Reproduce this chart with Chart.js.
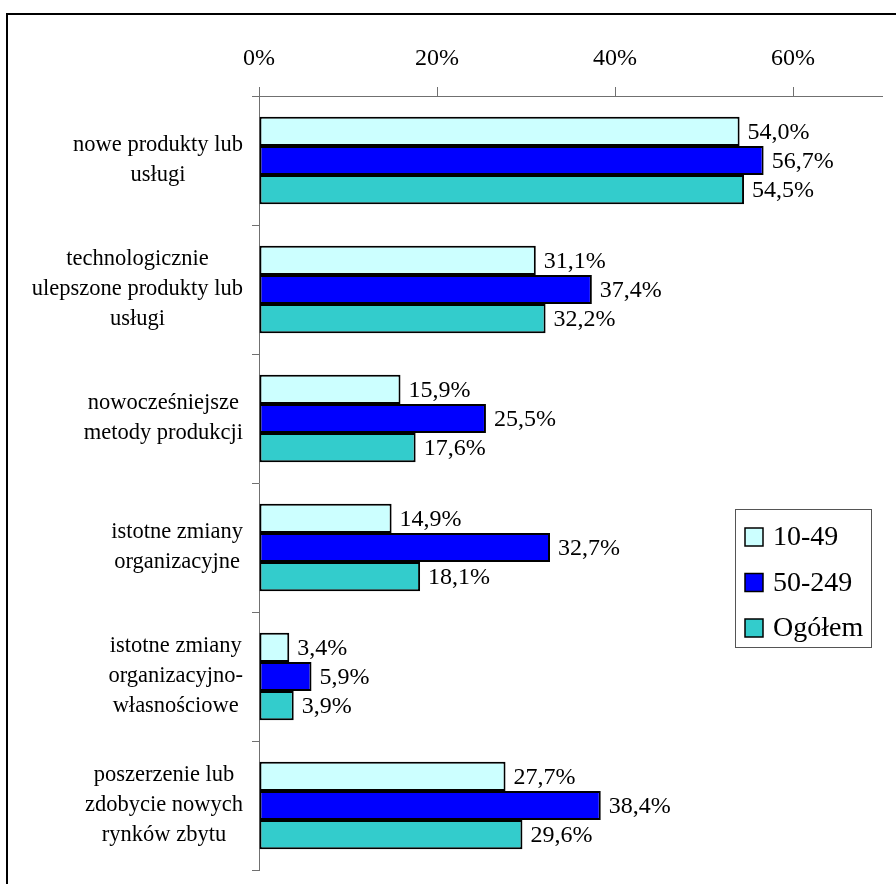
<!DOCTYPE html>
<html>
<head>
<meta charset="utf-8">
<script src="https://cdn.jsdelivr.net/npm/chart.js@4/dist/chart.umd.min.js"></script>
<style>
    html, body { margin: 0; padding: 0; background: #fff; overflow: hidden; }
    #wrap { position: relative; width: 896px; height: 884px; }
    #frame { position: absolute; left: 6px; top: 13px; width: 1000px; height: 1000px; border: 2px solid #000; }
    #chart { position: absolute; left: 0; top: 0; }
</style>
</head>
<body>
<div id="wrap">
    <div id="frame"></div>
    <canvas id="chart" width="896" height="884"></canvas>
</div>
<script>
// Categories (each entry is a list of label lines)
const categories = [
    ["nowe produkty lub", "usługi"],
    ["technologicznie", "ulepszone produkty lub", "usługi"],
    ["nowocześniejsze", "metody produkcji"],
    ["istotne zmiany", "organizacyjne"],
    ["istotne zmiany", "organizacyjno-", "własnościowe"],
    ["poszerzenie lub", "zdobycie nowych", "rynków zbytu"]
];

const seriesNames = ["10-49", "50-249", "Ogółem"];
const small = [54.0, 31.1, 15.9, 14.9, 3.4, 27.7];
const medium = [56.7, 37.4, 25.5, 32.7, 5.9, 38.4];
const total = [54.5, 32.2, 17.6, 18.1, 3.9, 29.6];
const xTicks = [0, 20, 40, 60];

const colors = ["#CCFFFF", "#0000FF", "#33CCCC"];
const serif = "'Liberation Serif', 'Times New Roman', serif";

function fmt(v) {
    return v.toFixed(1).replace(".", ",") + "%";
}

// Value labels at the end of each bar
const valueLabels = {
    id: "valueLabels",
    afterDatasetsDraw(chart) {
        const ctx = chart.ctx;
        ctx.save();
        ctx.font = "24px " + serif;
        ctx.fillStyle = "#000";
        ctx.textAlign = "left";
        ctx.textBaseline = "middle";
        chart.data.datasets.forEach((ds, i) => {
            chart.getDatasetMeta(i).data.forEach((bar, j) => {
                ctx.fillText(fmt(ds.data[j]), bar.x + 8, bar.y + 1);
            });
        });
        ctx.restore();
    }
};

// Category labels: each block right-aligned to the axis, lines centred within it
const categoryLabels = {
    id: "categoryLabels",
    afterDraw(chart) {
        const ctx = chart.ctx;
        const yScale = chart.scales.y;
        const right = yScale.right - 16;
        const lineH = 30;
        ctx.save();
        ctx.font = "22.5px " + serif;
        ctx.fillStyle = "#000";
        ctx.textAlign = "center";
        ctx.textBaseline = "middle";
        categories.forEach((lines, i) => {
            const widest = Math.max(...lines.map(l => ctx.measureText(l).width));
            const cx = right - widest / 2;
            const cy = yScale.getPixelForValue(i);
            const y0 = cy - (lines.length - 1) * lineH / 2;
            lines.forEach((l, k) => ctx.fillText(l, cx, y0 + k * lineH));
        });
        ctx.restore();
    }
};

// Boxed legend in the lower right
const boxLegend = {
    id: "boxLegend",
    afterDraw(chart) {
        const ctx = chart.ctx;
        const left = 735, top = 509, w = 136, h = 138;
        ctx.save();
        ctx.strokeStyle = "#555";
        ctx.lineWidth = 1;
        ctx.strokeRect(left + 0.5, top + 0.5, w, h);
        ctx.font = "28px " + serif;
        ctx.textAlign = "left";
        ctx.textBaseline = "middle";
        chart.data.datasets.forEach((ds, i) => {
            const cy = top + 28 + i * 45.5;
            ctx.fillStyle = ds.backgroundColor;
            ctx.fillRect(745, cy - 9, 18, 18);
            ctx.strokeStyle = "#000";
            ctx.lineWidth = 1.5;
            ctx.strokeRect(745, cy - 9, 18, 18);
            ctx.fillStyle = "#000";
            ctx.fillText(ds.label, 773, cy + 1);
        });
        ctx.restore();
    }
};

const barStyle = { borderColor: "#000", borderWidth: 2, borderSkipped: false, categoryPercentage: 0.68, barPercentage: 1.0 };

new Chart(document.getElementById("chart"), {
    type: "bar",
    data: {
        labels: categories,
        datasets: [
            { label: seriesNames[0], data: small, backgroundColor: colors[0], ...barStyle },
            { label: seriesNames[1], data: medium, backgroundColor: colors[1], ...barStyle },
            { label: seriesNames[2], data: total, backgroundColor: colors[2], ...barStyle }
        ]
    },
    options: {
        indexAxis: "y",
        responsive: false,
        animation: false,
        layout: { padding: { top: 40, right: 14, bottom: 14, left: 0 } },
        plugins: {
            legend: { display: false },
            tooltip: { enabled: false }
        },
        scales: {
            x: {
                position: "top",
                min: 0,
                max: 70,
                afterBuildTicks: scale => {
                    scale.ticks = xTicks.map(v => ({ value: v }));
                },
                afterFit: scale => { scale.height = 56; },
                ticks: {
                    callback: v => v + "%",
                    color: "#000",
                    padding: 14,
                    maxRotation: 0,
                    font: { family: serif, size: 24 }
                },
                grid: { drawOnChartArea: false, tickLength: 9, color: "#707070" },
                border: { color: "#707070", width: 1 }
            },
            y: {
                afterFit: scale => { scale.width = 259; },
                ticks: { display: false },
                grid: { drawOnChartArea: false, offset: true, tickLength: 7, color: "#707070" },
                border: { color: "#707070", width: 1 }
            }
        }
    },
    plugins: [valueLabels, categoryLabels, boxLegend]
});
</script>
</body>
</html>
